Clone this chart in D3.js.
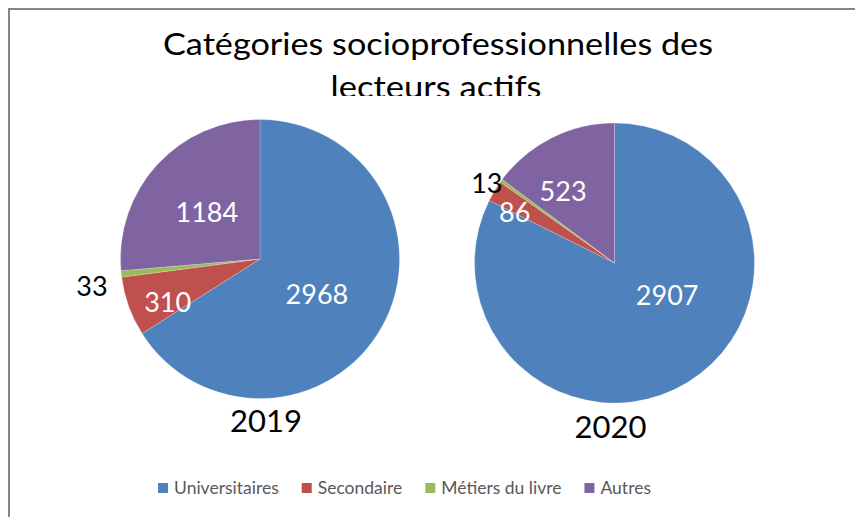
<!DOCTYPE html>
<html>
<head>
<meta charset="utf-8">
<script src="https://cdn.jsdelivr.net/npm/d3@7"></script>
<style>
  body { margin: 0; background: #fff; }
  svg { display: block; font-family: Lato, "Open Sans", sans-serif; }
</style>
</head>
<body>
<svg id="chart"></svg>
<script>
// data
const categories = ["Universitaires", "Secondaire", "Métiers du livre", "Autres"];
const years = ["2019", "2020"];
const values2019 = [2968, 310, 33, 1184];
const values2020 = [2907, 86, 13, 523];
const titleLines = ["Catégories socioprofessionnelles des", "lecteurs actifs"];

const w = 855, h = 517;
const svg = d3.select("#chart").attr("width", w).attr("height", h);

const color = d3.scaleOrdinal()
  .domain(categories)
  .range(["#4F81BD", "#C0504D", "#9BBB59", "#8064A2"]);

// chart border (only top + left visible in the crop)
svg.append("rect")
  .attr("x", 9).attr("y", 9)
  .attr("width", w + 20).attr("height", h + 20)
  .attr("fill", "#fff")
  .attr("stroke", "#868686")
  .attr("stroke-width", 2);

// title
const title = svg.append("g");
title.selectAll("text")
  .data(titleLines)
  .join("text")
  .attr("x", (d, i) => i === 0 ? 438 : 436)
  .attr("y", (d, i) => 55 + i * 43)
  .attr("text-anchor", "middle")
  .attr("font-size", 31)
  .attr("fill", "#000")
  .attr("textLength", (d, i) => i === 0 ? 550 : 211)
  .attr("lengthAdjust", "spacingAndGlyphs")
  .text(d => d);

// plot area overlaps the second title line
svg.append("rect")
  .attr("x", 20).attr("y", 96)
  .attr("width", 815).attr("height", 360)
  .attr("fill", "#fff");

// pies
const pies = [
  { year: "2019", values: values2019, cx: 260, cy: 259, r: 139.5,
    labelPos: [[0.48, 3], [0.73, -5], [1.22, -3], [0.51, -1]],
    yearDx: 6, yearDy: 173 },
  { year: "2020", values: values2020, cx: 614.5, cy: 263, r: 140,
    labelPos: [[0.44, -27], [0.8, -4], [1.075, -4], [0.63, -9]],
    yearDx: -4, yearDy: 175 }
];

const pie = d3.pie().sort(null).value(d => d.value);

pies.forEach(p => {
  const rows = categories.map((c, i) => ({ cat: c, value: p.values[i] }));
  const arcs = pie(rows);
  const arc = d3.arc().innerRadius(0).outerRadius(p.r);

  const g = svg.append("g")
    .attr("transform", `translate(${p.cx},${p.cy})`);

  g.selectAll("path")
    .data(arcs)
    .join("path")
    .attr("d", arc)
    .attr("fill", d => color(d.data.cat))
    .attr("stroke", "rgba(255,255,255,0.35)")
    .attr("stroke-width", 0.6);

  // data labels
  g.selectAll("text.val")
    .data(arcs)
    .join("text")
    .attr("class", "val")
    .attr("transform", (d, i) => {
      const [k, nudge] = p.labelPos[i];
      const a = (d.startAngle + d.endAngle) / 2 + nudge * Math.PI / 180;
      return `translate(${Math.sin(a) * p.r * k},${-Math.cos(a) * p.r * k})`;
    })
    .attr("text-anchor", "middle")
    .attr("dy", "0.36em")
    .attr("font-size", 27)
    .attr("fill", (d, i) => p.labelPos[i][0] > 1 ? "#000" : "#fff")
    .text(d => d.data.value);

  // year caption
  g.append("text")
    .attr("x", p.yearDx)
    .attr("y", p.yearDy)
    .attr("text-anchor", "middle")
    .attr("font-size", 31)
    .attr("fill", "#000")
    .text(p.year);
});

// legend
const legend = svg.append("g").attr("transform", "translate(0,488)");
const items = legend.selectAll("g")
  .data(categories)
  .join("g");

items.append("rect")
  .attr("y", -5)
  .attr("width", 10).attr("height", 10)
  .attr("fill", d => color(d));

items.append("text")
  .attr("x", 16)
  .attr("dy", "0.36em")
  .attr("font-size", 17.5)
  .attr("fill", "#595959")
  .text(d => d);

let xPos = 0;
const offsets = [];
items.each(function () {
  offsets.push(xPos);
  xPos += 16 + this.querySelector("text").getComputedTextLength() + 23;
});
const legendWidth = xPos - 23;
const legendStart = 404.5 - legendWidth / 2;
items.attr("transform", (d, i) => `translate(${legendStart + offsets[i]},0)`);
</script>
</body>
</html>
